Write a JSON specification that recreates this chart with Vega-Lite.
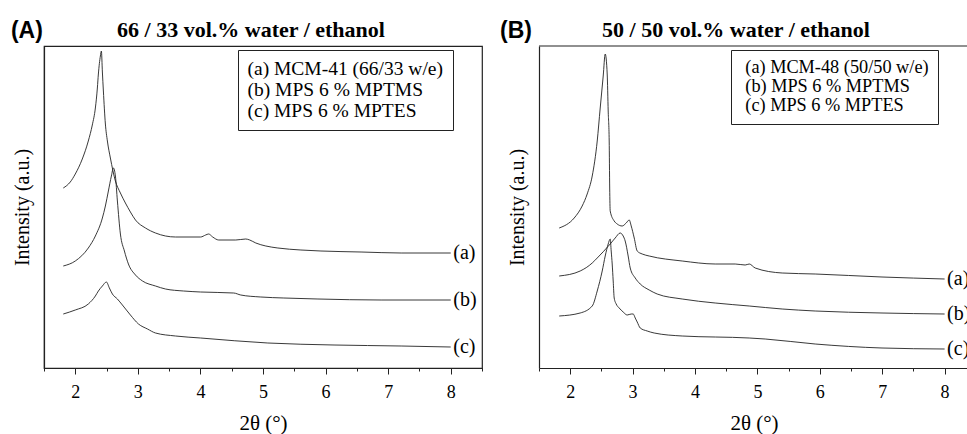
{
  "$schema": "https://vega.github.io/schema/vega-lite/v6.json",
  "background": "white",
  "padding": {"left": 10, "top": 18, "right": 0, "bottom": 0},
  "spacing": 13,
  "config": {
    "font": "Liberation Serif",
    "view": {"stroke": "#222", "strokeWidth": 1.2},
    "axis": {"domainColor": "#222", "domainWidth": 1.2, "tickColor": "#222", "tickWidth": 1, "labelColor": "black", "titleColor": "black", "labelFont": "Liberation Serif", "titleFont": "Liberation Serif", "titleFontWeight": "normal", "grid": false},
    "legend": {"strokeColor": "#222", "fillColor": "white", "padding": 9, "symbolType": "circle", "symbolSize": 0, "symbolOpacity": 0, "symbolStrokeWidth": 0, "labelFont": "Liberation Serif", "labelColor": "black", "rowPadding": 0, "labelLimit": 400}
  },
  "datasets": {
    "curves": [
      {"p":"A","s":"a","x":1.808,"y":180},{"p":"A","s":"a","x":1.92,"y":186},{"p":"A","s":"a","x":2.0,"y":194},{"p":"A","s":"a","x":2.112,"y":209},{"p":"A","s":"a","x":2.208,"y":227},{"p":"A","s":"a","x":2.272,"y":243},{"p":"A","s":"a","x":2.321,"y":260},{"p":"A","s":"a","x":2.353,"y":280},{"p":"A","s":"a","x":2.369,"y":294},{"p":"A","s":"a","x":2.401,"y":312},{"p":"A","s":"a","x":2.417,"y":317},{"p":"A","s":"a","x":2.433,"y":296},{"p":"A","s":"a","x":2.449,"y":277},{"p":"A","s":"a","x":2.481,"y":244},{"p":"A","s":"a","x":2.513,"y":227},{"p":"A","s":"a","x":2.561,"y":210},{"p":"A","s":"a","x":2.641,"y":187},{"p":"A","s":"a","x":2.721,"y":175},{"p":"A","s":"a","x":2.801,"y":165},{"p":"A","s":"a","x":2.881,"y":156},{"p":"A","s":"a","x":2.962,"y":148},{"p":"A","s":"a","x":3.122,"y":140},{"p":"A","s":"a","x":3.282,"y":135},{"p":"A","s":"a","x":3.603,"y":131},{"p":"A","s":"a","x":4.003,"y":131},{"p":"A","s":"a","x":4.083,"y":133},{"p":"A","s":"a","x":4.131,"y":134},{"p":"A","s":"a","x":4.196,"y":131},{"p":"A","s":"a","x":4.292,"y":128},{"p":"A","s":"a","x":4.564,"y":128},{"p":"A","s":"a","x":4.724,"y":129},{"p":"A","s":"a","x":4.788,"y":128},{"p":"A","s":"a","x":4.885,"y":125},{"p":"A","s":"a","x":5.045,"y":122},{"p":"A","s":"a","x":5.237,"y":120},{"p":"A","s":"a","x":5.606,"y":118},{"p":"A","s":"a","x":5.926,"y":117},{"p":"A","s":"a","x":6.567,"y":116},{"p":"A","s":"a","x":7.208,"y":115},{"p":"A","s":"a","x":8.0,"y":115},
      {"p":"A","s":"b","x":1.808,"y":102},{"p":"A","s":"b","x":2.0,"y":107},{"p":"A","s":"b","x":2.208,"y":120},{"p":"A","s":"b","x":2.321,"y":132},{"p":"A","s":"b","x":2.433,"y":150},{"p":"A","s":"b","x":2.481,"y":162},{"p":"A","s":"b","x":2.529,"y":177},{"p":"A","s":"b","x":2.577,"y":192},{"p":"A","s":"b","x":2.609,"y":200},{"p":"A","s":"b","x":2.641,"y":192},{"p":"A","s":"b","x":2.673,"y":167},{"p":"A","s":"b","x":2.721,"y":134},{"p":"A","s":"b","x":2.785,"y":117},{"p":"A","s":"b","x":2.849,"y":104},{"p":"A","s":"b","x":2.962,"y":93},{"p":"A","s":"b","x":3.074,"y":87},{"p":"A","s":"b","x":3.282,"y":82},{"p":"A","s":"b","x":3.442,"y":79},{"p":"A","s":"b","x":3.731,"y":77},{"p":"A","s":"b","x":4.003,"y":76},{"p":"A","s":"b","x":4.532,"y":75},{"p":"A","s":"b","x":4.644,"y":73},{"p":"A","s":"b","x":4.965,"y":71},{"p":"A","s":"b","x":5.333,"y":70},{"p":"A","s":"b","x":5.878,"y":69},{"p":"A","s":"b","x":6.888,"y":68},{"p":"A","s":"b","x":8.0,"y":68},
      {"p":"A","s":"c","x":1.808,"y":54},{"p":"A","s":"c","x":2.0,"y":58},{"p":"A","s":"c","x":2.208,"y":64},{"p":"A","s":"c","x":2.321,"y":72},{"p":"A","s":"c","x":2.369,"y":77},{"p":"A","s":"c","x":2.433,"y":82},{"p":"A","s":"c","x":2.497,"y":86},{"p":"A","s":"c","x":2.545,"y":80},{"p":"A","s":"c","x":2.593,"y":74},{"p":"A","s":"c","x":2.673,"y":69},{"p":"A","s":"c","x":2.753,"y":63},{"p":"A","s":"c","x":2.881,"y":53},{"p":"A","s":"c","x":3.01,"y":44},{"p":"A","s":"c","x":3.154,"y":39},{"p":"A","s":"c","x":3.282,"y":35},{"p":"A","s":"c","x":3.603,"y":32},{"p":"A","s":"c","x":4.003,"y":30},{"p":"A","s":"c","x":5.077,"y":25},{"p":"A","s":"c","x":6.135,"y":23},{"p":"A","s":"c","x":7.208,"y":22},{"p":"A","s":"c","x":8.0,"y":21},
      {"p":"B","s":"a","x":1.824,"y":140},{"p":"B","s":"a","x":2.064,"y":150},{"p":"B","s":"a","x":2.192,"y":162},{"p":"B","s":"a","x":2.272,"y":174},{"p":"B","s":"a","x":2.353,"y":192},{"p":"B","s":"a","x":2.433,"y":227},{"p":"B","s":"a","x":2.481,"y":260},{"p":"B","s":"a","x":2.529,"y":292},{"p":"B","s":"a","x":2.561,"y":314},{"p":"B","s":"a","x":2.593,"y":294},{"p":"B","s":"a","x":2.609,"y":257},{"p":"B","s":"a","x":2.625,"y":227},{"p":"B","s":"a","x":2.633,"y":180},{"p":"B","s":"a","x":2.641,"y":157},{"p":"B","s":"a","x":2.705,"y":147},{"p":"B","s":"a","x":2.753,"y":144},{"p":"B","s":"a","x":2.833,"y":142},{"p":"B","s":"a","x":2.897,"y":145},{"p":"B","s":"a","x":2.946,"y":148},{"p":"B","s":"a","x":2.978,"y":142},{"p":"B","s":"a","x":3.026,"y":130},{"p":"B","s":"a","x":3.074,"y":117},{"p":"B","s":"a","x":3.154,"y":114},{"p":"B","s":"a","x":3.266,"y":112},{"p":"B","s":"a","x":3.795,"y":107},{"p":"B","s":"a","x":4.324,"y":104},{"p":"B","s":"a","x":4.644,"y":104},{"p":"B","s":"a","x":4.804,"y":103},{"p":"B","s":"a","x":4.869,"y":104},{"p":"B","s":"a","x":4.965,"y":100},{"p":"B","s":"a","x":5.397,"y":95},{"p":"B","s":"a","x":5.926,"y":94},{"p":"B","s":"a","x":6.997,"y":91},{"p":"B","s":"a","x":8.0,"y":89},
      {"p":"B","s":"b","x":1.824,"y":92},{"p":"B","s":"b","x":2.16,"y":97},{"p":"B","s":"b","x":2.353,"y":105},{"p":"B","s":"b","x":2.433,"y":110},{"p":"B","s":"b","x":2.641,"y":124},{"p":"B","s":"b","x":2.721,"y":130},{"p":"B","s":"b","x":2.801,"y":135},{"p":"B","s":"b","x":2.849,"y":132},{"p":"B","s":"b","x":2.881,"y":127},{"p":"B","s":"b","x":2.929,"y":112},{"p":"B","s":"b","x":2.962,"y":100},{"p":"B","s":"b","x":3.042,"y":90},{"p":"B","s":"b","x":3.122,"y":84},{"p":"B","s":"b","x":3.266,"y":78},{"p":"B","s":"b","x":3.394,"y":74},{"p":"B","s":"b","x":3.795,"y":69},{"p":"B","s":"b","x":4.324,"y":65},{"p":"B","s":"b","x":4.869,"y":62},{"p":"B","s":"b","x":5.397,"y":59},{"p":"B","s":"b","x":5.926,"y":57},{"p":"B","s":"b","x":6.997,"y":55},{"p":"B","s":"b","x":8.0,"y":54},
      {"p":"B","s":"c","x":1.824,"y":52},{"p":"B","s":"c","x":2.16,"y":55},{"p":"B","s":"c","x":2.353,"y":62},{"p":"B","s":"c","x":2.433,"y":77},{"p":"B","s":"c","x":2.513,"y":97},{"p":"B","s":"c","x":2.561,"y":112},{"p":"B","s":"c","x":2.609,"y":124},{"p":"B","s":"c","x":2.641,"y":129},{"p":"B","s":"c","x":2.657,"y":117},{"p":"B","s":"c","x":2.673,"y":104},{"p":"B","s":"c","x":2.689,"y":87},{"p":"B","s":"c","x":2.705,"y":70},{"p":"B","s":"c","x":2.737,"y":64},{"p":"B","s":"c","x":2.785,"y":60},{"p":"B","s":"c","x":2.849,"y":56},{"p":"B","s":"c","x":2.913,"y":53},{"p":"B","s":"c","x":2.978,"y":54},{"p":"B","s":"c","x":3.01,"y":54},{"p":"B","s":"c","x":3.042,"y":50},{"p":"B","s":"c","x":3.074,"y":46},{"p":"B","s":"c","x":3.122,"y":40},{"p":"B","s":"c","x":3.234,"y":37},{"p":"B","s":"c","x":3.346,"y":35},{"p":"B","s":"c","x":3.795,"y":32},{"p":"B","s":"c","x":4.869,"y":30},{"p":"B","s":"c","x":5.125,"y":29},{"p":"B","s":"c","x":5.926,"y":24},{"p":"B","s":"c","x":6.997,"y":20},{"p":"B","s":"c","x":8.0,"y":19}
    ],
    "labels": [
      {"p":"A","t":"(a)","x":8.04,"y":115},{"p":"A","t":"(b)","x":8.04,"y":68},{"p":"A","t":"(c)","x":8.04,"y":21},
      {"p":"B","t":"(a)","x":8.04,"y":89},{"p":"B","t":"(b)","x":8.04,"y":54},{"p":"B","t":"(c)","x":8.04,"y":19}
    ],
    "panels": [
      {"p":"A","t":"(A)","x":0.971,"y":337},
      {"p":"B","t":"(B)","x":0.875,"y":337}
    ],
    "minor": [
      {"x":1.5},{"x":2.5},{"x":3.5},{"x":4.5},{"x":5.5},{"x":6.5},{"x":7.5},{"x":8.5}
    ]
  },
  "resolve": {"scale": {"color": "independent", "x": "independent", "y": "independent"}, "legend": {"color": "independent"}},
  "hconcat": [
    {
      "width": 438,
      "height": 322,
      "title": {"text": "66 / 33 vol.% water / ethanol", "font": "Liberation Serif", "fontSize": 22, "fontWeight": "bold", "frame": "group", "anchor": "middle", "dx": -12, "offset": -22, "color": "black"},
      "resolve": {"axis": {"x": "independent"}},
      "layer": [
        {
          "data": {"name": "curves"},
          "transform": [{"filter": "datum.p === 'A'"}],
          "mark": {"type": "line", "strokeWidth": 0.9, "interpolate": "monotone"},
          "encoding": {
            "x": {"field": "x", "type": "quantitative", "scale": {"domain": [1.5, 8.5], "nice": false, "zero": false},
                  "axis": {"orient": "bottom", "title": "2θ (°)", "titleFontSize": 21, "titlePadding": 11, "values": [2,3,4,5,6,7,8], "tickSize": 6, "labelFontSize": 18, "labelPadding": 9, "labelFlush": false}},
            "y": {"field": "y", "type": "quantitative", "scale": {"domain": [0, 322], "nice": false, "zero": false},
                  "axis": {"title": "Intensity (a.u.)", "titleFontSize": 20, "titlePadding": 12, "labels": false, "ticks": false}},
            "color": {"field": "s", "type": "nominal", "scale": {"range": ["#222", "#222", "#222"]},
                      "legend": {"title": null, "orient": "none", "legendX": 194, "legendY": 4, "labelFontSize": 19.5, "labelOffset": -19, "symbolType": "circle", "symbolSize": 0, "labelExpr": "{'a': '(a) MCM-41 (66/33 w/e)\u00a0\u00a0\u00a0\u00a0', 'b': '(b) MPS 6 % MPTMS', 'c': '(c) MPS 6 % MPTES'}[datum.value]"}}
          }
        },
        {
          "data": {"name": "minor"},
          "mark": {"type": "point", "opacity": 0},
          "encoding": {
            "x": {"field": "x", "type": "quantitative", "scale": {"domain": [1.5, 8.5], "nice": false, "zero": false},
                  "axis": {"orient": "bottom", "title": null, "values": [1.5,2.5,3.5,4.5,5.5,6.5,7.5,8.5], "tickSize": 3, "labels": false, "domain": false, "offset": 0}}
          }
        },
        {
          "data": {"name": "labels"},
          "transform": [{"filter": "datum.p === 'A'"}],
          "mark": {"type": "text", "align": "left", "baseline": "middle", "font": "Liberation Serif", "fontSize": 20, "color": "black"},
          "encoding": {
            "x": {"field": "x", "type": "quantitative", "scale": {"domain": [1.5, 8.5], "nice": false, "zero": false}, "axis": null},
            "y": {"field": "y", "type": "quantitative", "scale": {"domain": [0, 322], "nice": false, "zero": false}},
            "text": {"field": "t"}
          }
        },
        {
          "data": {"name": "panels"},
          "transform": [{"filter": "datum.p === 'A'"}],
          "mark": {"type": "text", "align": "left", "baseline": "middle", "font": "Liberation Sans", "fontWeight": "bold", "fontSize": 23, "color": "black"},
          "encoding": {
            "x": {"field": "x", "type": "quantitative", "scale": {"domain": [1.5, 8.5], "nice": false, "zero": false}, "axis": null},
            "y": {"field": "y", "type": "quantitative", "scale": {"domain": [0, 322], "nice": false, "zero": false}},
            "text": {"field": "t"}
          }
        }
      ]
    },
    {
      "width": 430,
      "height": 322,
      "view": {"stroke": null},
      "title": {"text": "50 / 50 vol.% water / ethanol", "font": "Liberation Serif", "fontSize": 22, "fontWeight": "bold", "frame": "group", "anchor": "middle", "dx": -18, "offset": -22, "color": "black"},
      "resolve": {"axis": {"x": "independent"}},
      "layer": [
        {
          "data": {"name": "curves"},
          "transform": [{"filter": "datum.p === 'B'"}],
          "mark": {"type": "line", "strokeWidth": 0.9, "interpolate": "monotone"},
          "encoding": {
            "x": {"field": "x", "type": "quantitative", "scale": {"domain": [1.5, 8.391], "nice": false, "zero": false},
                  "axis": {"orient": "bottom", "title": "2θ (°)", "titleFontSize": 21, "titlePadding": 11, "values": [2,3,4,5,6,7,8], "tickSize": 6, "labelFontSize": 18, "labelPadding": 9, "labelFlush": false}},
            "y": {"field": "y", "type": "quantitative", "scale": {"domain": [0, 322], "nice": false, "zero": false},
                  "axis": {"title": "Intensity (a.u.)", "titleFontSize": 20, "titlePadding": 12, "labels": false, "ticks": false}},
            "color": {"field": "s", "type": "nominal", "scale": {"range": ["#222", "#222", "#222"]},
                      "legend": {"title": null, "orient": "none", "legendX": 192, "legendY": 4, "labelFontSize": 18.3, "labelOffset": -13, "symbolType": "circle", "symbolSize": 0, "labelExpr": "{'a': '(a) MCM-48 (50/50 w/e)', 'b': '(b) MPS 6 % MPTMS', 'c': '(c) MPS 6 % MPTES'}[datum.value]"}}
          }
        },
        {
          "data": {"name": "minor"},
          "mark": {"type": "point", "opacity": 0},
          "encoding": {
            "x": {"field": "x", "type": "quantitative", "scale": {"domain": [1.5, 8.391], "nice": false, "zero": false},
                  "axis": {"orient": "bottom", "title": null, "values": [1.5,2.5,3.5,4.5,5.5,6.5,7.5], "tickSize": 3, "labels": false, "domain": false, "offset": 0}}
          }
        },
        {
          "data": {"values": [{}]},
          "mark": {"type": "rule", "color": "#222", "strokeWidth": 1.2},
          "encoding": {
            "y": {"datum": 322, "type": "quantitative", "scale": {"domain": [0, 322], "nice": false, "zero": false}}
          }
        },
        {
          "data": {"name": "labels"},
          "transform": [{"filter": "datum.p === 'B'"}],
          "mark": {"type": "text", "align": "left", "baseline": "middle", "font": "Liberation Serif", "fontSize": 20, "color": "black", "clip": true},
          "encoding": {
            "x": {"field": "x", "type": "quantitative", "scale": {"domain": [1.5, 8.391], "nice": false, "zero": false}, "axis": null},
            "y": {"field": "y", "type": "quantitative", "scale": {"domain": [0, 322], "nice": false, "zero": false}},
            "text": {"field": "t"}
          }
        },
        {
          "data": {"name": "panels"},
          "transform": [{"filter": "datum.p === 'B'"}],
          "mark": {"type": "text", "align": "left", "baseline": "middle", "font": "Liberation Sans", "fontWeight": "bold", "fontSize": 23, "color": "black"},
          "encoding": {
            "x": {"field": "x", "type": "quantitative", "scale": {"domain": [1.5, 8.391], "nice": false, "zero": false}, "axis": null},
            "y": {"field": "y", "type": "quantitative", "scale": {"domain": [0, 322], "nice": false, "zero": false}},
            "text": {"field": "t"}
          }
        }
      ]
    }
  ]
}
